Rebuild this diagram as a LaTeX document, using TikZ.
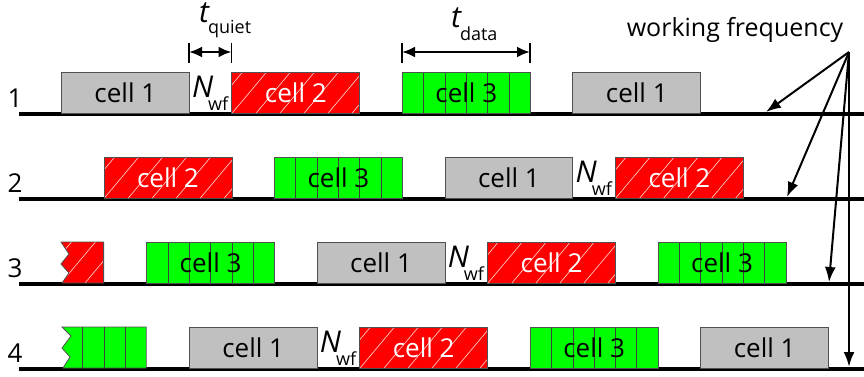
\documentclass[tikz,border=0pt]{standalone}
\usepackage{fontspec}
\setmainfont{Open Sans}
\usetikzlibrary{arrows.meta}
\definecolor{cellgray}{HTML}{C0C0C0}
\definecolor{cellred}{HTML}{FF0000}
\definecolor{cellgreen}{HTML}{00FF00}
\definecolor{edgegray}{HTML}{505050}
\newcommand{\cellfont}{\fontsize{26}{28}\selectfont}
\newcommand{\bigital}{\fontsize{30}{32}\selectfont\itshape}
\newcommand{\subfnt}{\fontsize{18}{20}\selectfont\upshape}
\tikzset{
  cellbox/.style={draw=edgegray, line width=0.8pt, minimum width=127.9pt,
    minimum height=41pt, anchor=north west, inner sep=0pt, font=\cellfont},
  hatchlines/.style={path picture={
      \foreach \k in {-4,...,7}{
        \draw[white!85!cellred, line width=0.6pt]
          ([xshift=\k*24pt]path picture bounding box.south west) -- ++(50:90pt);}}},
  sublines/.style={path picture={
      \foreach \k in {1,...,5}{
        \draw[black!75, line width=0.7pt]
          ([xshift=\k*21.32pt]path picture bounding box.north west) --
          ([xshift=\k*21.32pt]path picture bounding box.south west);}}},
  greycell/.style={cellbox, fill=cellgray},
  redcell/.style={cellbox, fill=cellred, text=white, hatchlines},
  greencell/.style={cellbox, fill=cellgreen, sublines},
  timeline/.style={line width=4pt},
  rowlabel/.style={font=\cellfont, anchor=center, inner sep=0pt},
  nwf/.style={anchor=base, inner sep=0pt},
  dimarrow/.style={line width=2.6pt, {Latex[length=13pt,width=11pt]}-{Latex[length=13pt,width=11pt]}},
  dimbar/.style={line width=1.2pt},
  wfarrow/.style={line width=2pt, -{Latex[length=15pt,width=11pt]}},
}
\begin{document}
\begin{tikzpicture}[x=1pt, y=-1pt]
\useasboundingbox (0,0) rectangle (864,376);

% time lines
\foreach \r/\yy in {1/114, 2/199, 3/284, 4/369}{
  \coordinate (ls\r) at (19,\yy);
  \coordinate (le\r) at (866,\yy);
}
\foreach \r in {1,...,4}{ \draw[timeline] (ls\r) -- (le\r); }

% row labels
\node[rowlabel] (r1) at (15,98) {1};
\node[rowlabel] (r2) at (15,183) {2};
\node[rowlabel] (r3) at (15,268) {3};
\node[rowlabel] (r4) at (15,353) {4};

% row 1
\node[greycell]  (c11) at ({61+42.62*0},72)  {cell 1};
\node[redcell]   (c12) at ({61+42.62*4},72)  {cell 2};
\node[greencell] (c13) at ({61+42.62*8},72)  {cell 3};
\node[greycell]  (c14) at ({61+42.62*12},72) {cell 1};
% row 2
\node[redcell]   (c21) at ({61+42.62*1},157)  {cell 2};
\node[greencell] (c22) at ({61+42.62*5},157)  {cell 3};
\node[greycell]  (c23) at ({61+42.62*9},157)  {cell 1};
\node[redcell]   (c24) at ({61+42.62*13},157) {cell 2};
% row 3
\filldraw[fill=cellred, draw=edgegray, line width=0.8pt, hatchlines]
  (103.6,242) -- (61,242) -- (69,254) -- (61,264) -- (69,273) -- (62,283) -- (103.6,283) -- cycle;
\node[greencell] (c31) at ({61+42.62*2},242)  {cell 3};
\node[greycell]  (c32) at ({61+42.62*6},242)  {cell 1};
\node[redcell]   (c33) at ({61+42.62*10},242) {cell 2};
\node[greencell] (c34) at ({61+42.62*14},242) {cell 3};
% row 4
\filldraw[fill=cellgreen, draw=edgegray, line width=0.8pt]
  (146.2,327) -- (62,327) -- (71,336) -- (62,348) -- (70,357) -- (63,368) -- (146.2,368) -- cycle;
\foreach \xx in {82.6,103.9,125.2}{
  \draw[black!75, line width=0.7pt] (\xx,327) -- (\xx,368);
}
\node[greycell]  (c41) at ({61+42.62*3},327)  {cell 1};
\node[redcell]   (c42) at ({61+42.62*7},327)  {cell 2};
\node[greencell] (c43) at ({61+42.62*11},327) {cell 3};
\node[greycell]  (c44) at ({61+42.62*15},327) {cell 1};

% N_wf labels
\node[nwf] (n1) at ({61+42.62*3.5},97)  {\bigital N\kern-5pt\raisebox{-13pt}{\subfnt wf}};
\node[nwf] (n2) at ({61+42.62*12.5},182) {\bigital N\kern-5pt\raisebox{-13pt}{\subfnt wf}};
\node[nwf] (n3) at ({61+42.62*9.5},267)  {\bigital N\kern-5pt\raisebox{-13pt}{\subfnt wf}};
\node[nwf] (n4) at ({61+42.62*6.5},352)  {\bigital N\kern-5pt\raisebox{-13pt}{\subfnt wf}};

% t_quiet
\coordinate (q1) at (189,52);
\coordinate (q2) at (231.5,52);
\draw[dimbar] (q1) ++(0,-9) -- ++(0,20);
\draw[dimbar] (q2) ++(0,-9) -- ++(0,20);
\draw[dimarrow] (q1) -- (q2);
\node[anchor=base west, inner sep=0pt] (tq) at (199,22) {\bigital t\kern-1pt\raisebox{-11pt}{\subfnt quiet}};

% t_data
\coordinate (d1) at (402,52);
\coordinate (d2) at (530,52);
\draw[dimbar] (d1) ++(0,-9) -- ++(0,20);
\draw[dimbar] (d2) ++(0,-9) -- ++(0,20);
\draw[dimarrow] (d1) -- (d2);
\node[anchor=base west, inner sep=0pt] (td) at (451,27) {\bigital t\kern-1pt\raisebox{-13pt}{\subfnt data}};

% working frequency
\node[font=\fontsize{25}{27}\selectfont, anchor=base, inner sep=0pt] (wf) at (735,36) {working frequency};
\coordinate (hub) at (849,52);
\coordinate (a1) at (766,112);
\coordinate (a2) at (787,197);
\coordinate (a3) at (829,282);
\coordinate (a4) at (849,367);
\draw[wfarrow] (hub) -- (a1);
\draw[wfarrow] (hub) -- (a2);
\draw[wfarrow] (hub) -- (a3);
\draw[wfarrow, line width=2.6pt] (hub) -- (a4);
\end{tikzpicture}
\end{document}
